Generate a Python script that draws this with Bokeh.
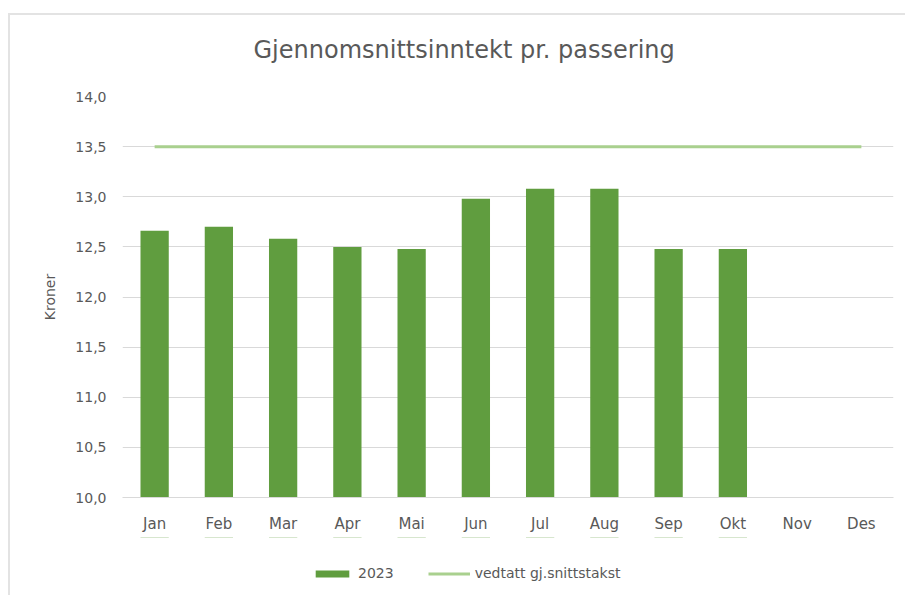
from bokeh.plotting import figure
from bokeh.layouts import column
from bokeh.models import FactorRange, Range1d, CustomJSTickFormatter, Legend, LegendItem, Title
from bokeh.embed import file_html
from bokeh.resources import INLINE

months = ["Jan", "Feb", "Mar", "Apr", "Mai", "Jun", "Jul", "Aug", "Sep", "Okt", "Nov", "Des"]
months_2023 = ["Jan", "Feb", "Mar", "Apr", "Mai", "Jun", "Jul", "Aug", "Sep", "Okt"]
values_2023 = [12.66, 12.70, 12.58, 12.50, 12.48, 12.98, 13.08, 13.08, 12.48, 12.48]
target = [13.5] * 12
y_ticks = [10.0, 10.5, 11.0, 11.5, 12.0, 12.5, 13.0, 13.5, 14.0]
series_names = ["2023", "vedtatt gj.snittstakst"]

FONT = "DejaVu Sans"
TXT = "#595959"
BAR = "#609D3F"
LINE = "#A9D08E"
EDGE = "#E3E3E3"

p = figure(frame_width=771, frame_height=401, width=897, height=537,
           x_range=FactorRange(*months), y_range=Range1d(10, 14),
           output_backend="svg", toolbar_location=None,
           min_border_left=114, min_border_right=12, min_border_top=96, min_border_bottom=40,
           styles={"margin-left": "8px",
                   "background": f"linear-gradient({EDGE},{EDGE}) 0px 13px / 100% 2px no-repeat, "
                                 f"linear-gradient({EDGE},{EDGE}) 0px 13px / 2px 100% no-repeat, white"})
p.border_fill_alpha = 0
p.background_fill_color = "white"

p.title = Title(text="Gjennomsnittsinntekt pr. passering", align="left", offset=131,
                text_font=FONT, text_font_size="24px", text_font_style="normal",
                text_color=TXT, standoff=65)

bars = p.vbar(x=months_2023, top=values_2023, bottom=10, width=0.44, color=BAR, line_color=None)
ln = p.line(x=months, y=target, line_color=LINE, line_width=3)

p.outline_line_color = None
p.xgrid.grid_line_color = None
p.ygrid.grid_line_color = "#D9D9D9"
p.ygrid.grid_line_width = 1

p.yaxis.ticker = y_ticks
p.yaxis.formatter = CustomJSTickFormatter(code="return tick.toFixed(1).replace('.', ',');")
p.yaxis.axis_line_color = None
p.yaxis.major_tick_line_color = None
p.yaxis.minor_tick_line_color = None
p.yaxis.major_label_standoff = 10
p.yaxis.axis_label = "Kroner"
p.yaxis.axis_label_text_font = FONT
p.yaxis.axis_label_text_font_style = "normal"
p.yaxis.axis_label_text_font_size = "14px"
p.yaxis.axis_label_text_color = TXT
p.yaxis.axis_label_standoff = 14

p.xaxis.axis_line_color = "#D9D9D9"
p.xaxis.major_tick_line_color = None
p.xaxis.minor_tick_line_color = None
p.xaxis.major_label_standoff = 11

for ax in (p.xaxis, p.yaxis):
    ax.major_label_text_font = FONT
    ax.major_label_text_font_size = "14px"
    ax.major_label_text_color = TXT
p.xaxis.major_label_text_font_size = "15px"

# Legend strip below the chart (separate figure so the legend is never clipped);
# same series drawn out of its visible y-range so only the legend swatches show.
p2 = figure(width=897, height=58, output_backend="svg", toolbar_location=None,
            x_range=FactorRange(*months), y_range=Range1d(0, 1),
            x_axis_type=None, y_axis_type=None,
            min_border_left=114, min_border_right=12, min_border_top=0, min_border_bottom=0,
            styles={"margin-left": "8px",
                    "background": f"linear-gradient({EDGE},{EDGE}) 0px 0px / 2px 100% no-repeat, white"})
p2.border_fill_alpha = 0
p2.background_fill_color = "white"
p2.outline_line_color = None
p2.grid.grid_line_color = None

lg_bar = p2.vbar(x=months_2023, top=values_2023, bottom=10, width=0.44, color=BAR, line_color=None)
lg_line = p2.line(x=months, y=target, line_color=LINE, line_width=3)

legend = Legend(items=[LegendItem(label=series_names[0], renderers=[lg_bar]),
                       LegendItem(label=series_names[1], renderers=[lg_line])],
                orientation="horizontal", location=(189, 14),
                label_text_font=FONT, label_text_font_size="14px", label_text_color=TXT,
                glyph_width=42, glyph_height=9, spacing=34, label_standoff=5,
                border_line_color=None, background_fill_alpha=0, margin=0, padding=0)
p2.add_layout(legend, "center")

layout = column(p, p2, spacing=0)
open("out.html", "w").write(file_html(layout, INLINE))
